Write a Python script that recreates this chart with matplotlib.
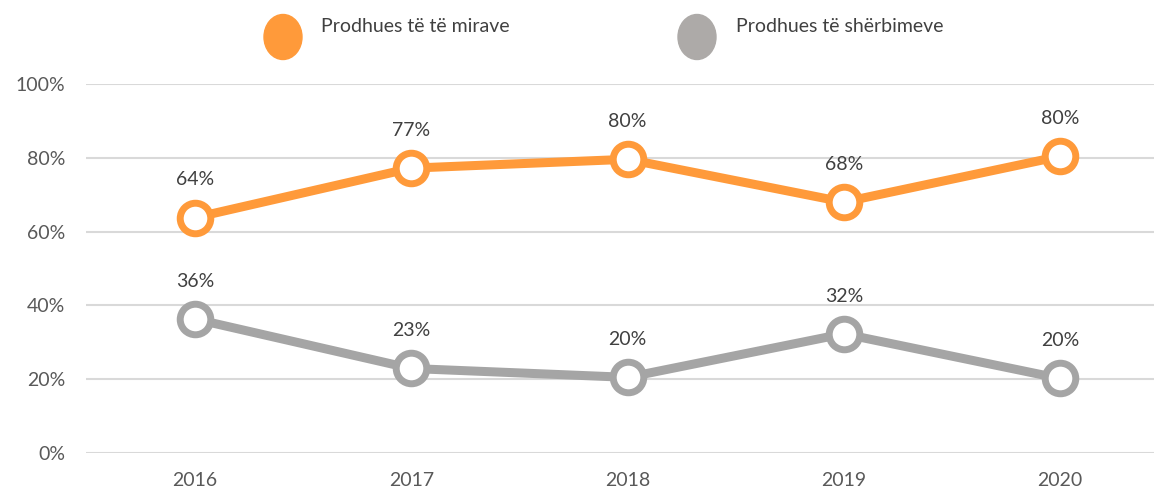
import matplotlib.pyplot as plt
from matplotlib.patches import Ellipse

years = ['2016', '2017', '2018', '2019', '2020']
goods = [63.8, 77.2, 79.6, 68.0, 80.4]
services = [36.3, 22.9, 20.5, 32.3, 20.2]
series_names = ['Prodhues të të mirave', 'Prodhues të shërbimeve']
colors = ['#FF9A3A', '#A5A5A5']
legend_colors = ['#FF9A3A', '#ADAAA8']
yticks = [0, 20, 40, 60, 80, 100]

plt.rcParams['font.family'] = ['Lato', 'DejaVu Sans']
W, H = 1154, 493
fig = plt.figure(figsize=(W / 100, H / 100), dpi=100)
ax = fig.add_axes([86 / W, (H - 453) / H, 1 - 86 / W, (453 - 84) / H])

x = range(len(years))
for vals, c in zip([goods, services], colors):
    ax.plot(x, vals, color=c, lw=6.5, marker='o', ms=22, mfc='white',
            mec=c, mew=5, solid_capstyle='round', zorder=3, clip_on=False)
    for xi, v in zip(x, vals):
        ax.annotate(f'{round(v)}%', (xi, v), xytext=(0, 21), textcoords='offset points',
                    ha='center', va='bottom', fontsize=14, color='#404040')

ax.set_ylim(0, 100)
ax.set_xlim(-0.505, 4.435)
ax.set_yticks(yticks)
ax.set_yticklabels([f'{t}%' for t in yticks])
ax.set_xticks(list(x))
ax.set_xticklabels(years)
ax.tick_params(length=0, labelsize=14, labelcolor='#595959')
ax.tick_params(axis='y', pad=15)
ax.tick_params(axis='x', pad=14)
ax.grid(axis='y', color='#D9D9D9', lw=1.5)
ax.set_axisbelow(True)
for s in ax.spines.values():
    s.set_visible(False)

# legend drawn by hand: tall ellipse swatches and text
for cx, tx, name, c in zip([283, 697], [321, 736], series_names, legend_colors):
    fig.patches.append(Ellipse((cx / W, (H - 37) / H), 38 / W, 45 / H,
                               transform=fig.transFigure, color=c))
    fig.text(tx / W, (H - 27) / H, name, fontsize=14, color='#404040', va='center')

fig.savefig('out.png', dpi=100)
